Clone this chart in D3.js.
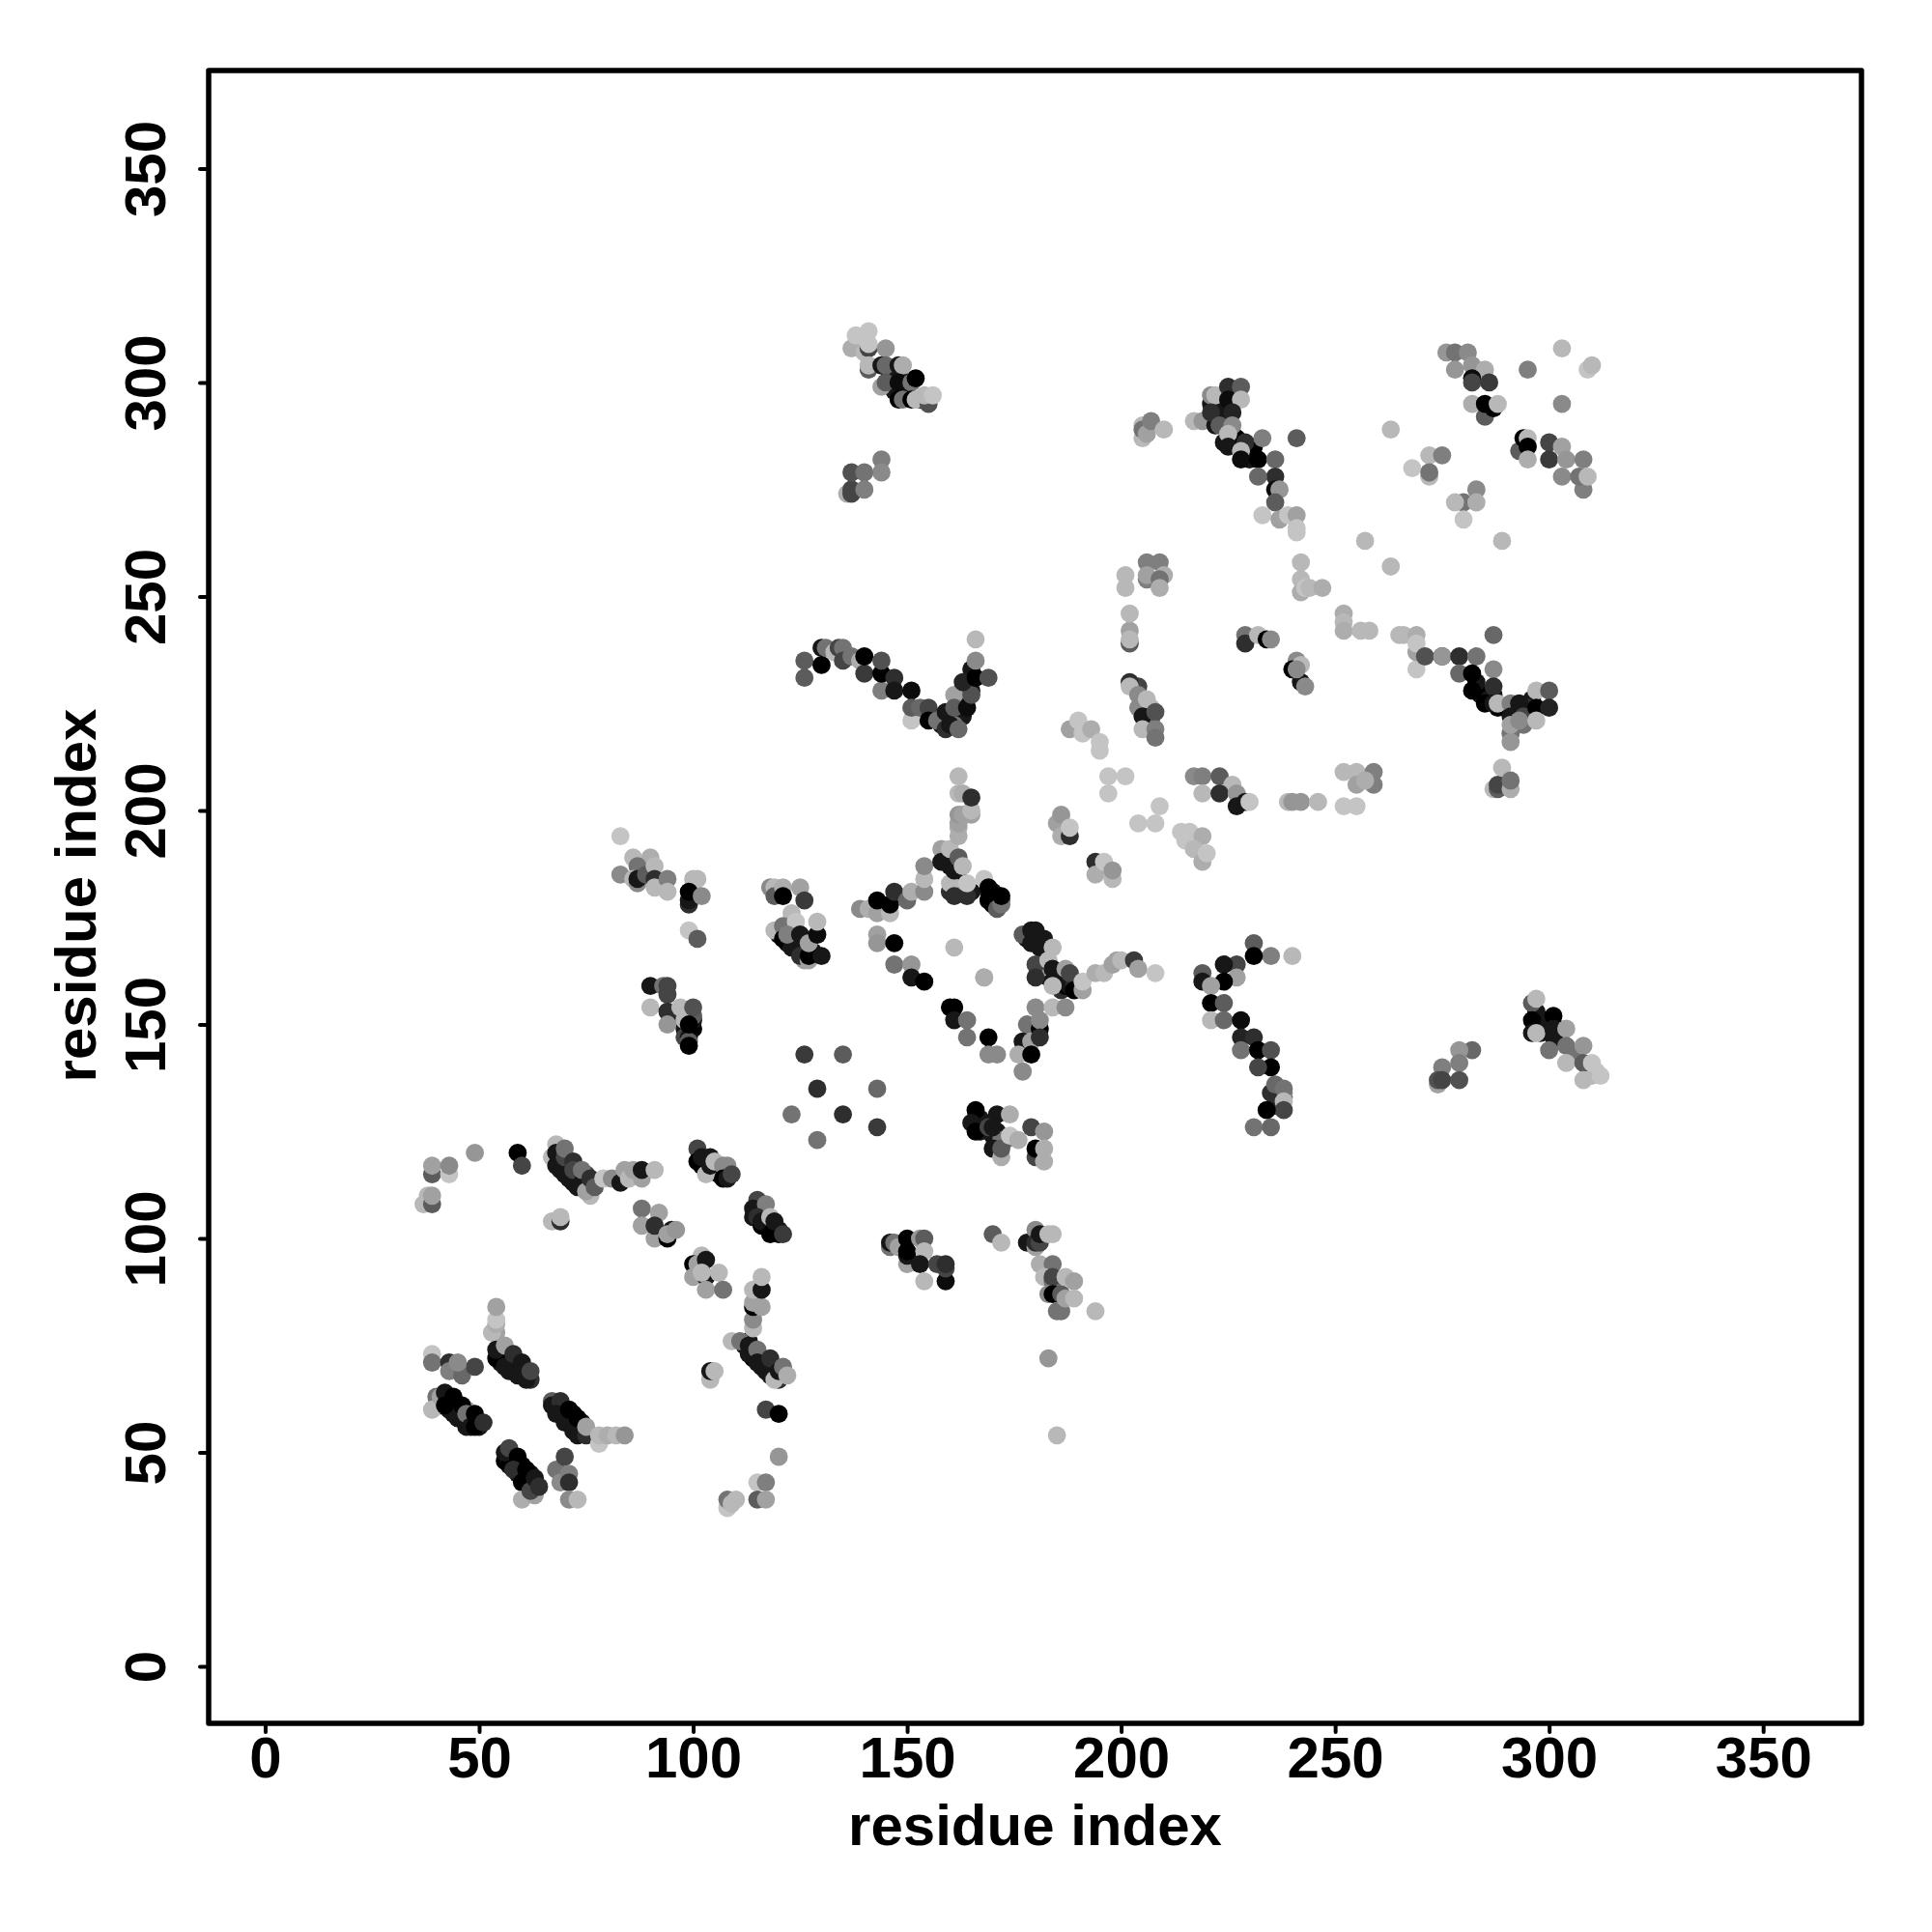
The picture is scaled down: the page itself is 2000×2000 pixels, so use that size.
<!DOCTYPE html>
<html><head><meta charset="utf-8">
<script src="https://cdnjs.cloudflare.com/ajax/libs/d3/7.8.5/d3.min.js"></script>
<style>html,body{margin:0;padding:0;background:#fff}svg{display:block}text{font-family:"Liberation Sans",Arial,sans-serif;font-weight:700;fill:#000}</style>
</head><body><div id="c"></div>
<script>
const tickValues=[0,50,100,150,200,250,300,350];
const axisTitle="residue index";
// each contact: [residue i, residue j, shade level 0 (black) .. 8.5 (light)]
const denseLow=[[40,63,5],[41,61,1],[43,62,0],[43,60,1],[44,59,1],[45,60,1],[46,58,1],[47,60,7],[48,58,0],[50,56,1],[47,56,1],[55,73,1],[56,72,0],[57,71,1],[57,69,1],[58,72,1],[59,70,0],[60,68,0],[61,69,1],[62,67,2],[55,71,1],[68,60,0],[69,60,1],[70,59,1],[71,57,1],[72,59,0],[73,56,1],[74,55,1],[74,57,1],[73,54,1],[75,55,1],[57,49,0],[57,47,1],[58,48,0],[59,45,1],[60,47,0],[60,45,1],[61,44,0],[62,43,1],[63,42,1],[62,45,1]];
const denseMid=[[69,118,0],[69,116,1],[71,116,1],[71,114,1],[72,114,1],[73,115,1],[73,112,1],[75,113,1],[75,115,3],[76,112,1],[102,117,0],[103,118,1],[104,116,1],[105,116,0],[106,115,1],[106,117,1],[107,116,6],[108,115,1],[114,105,1],[115,107,1],[116,106,1],[116,105,2],[117,103,1],[117,105,0],[118,103,0],[119,102,0],[120,102,1],[120,101,0],[112,75,1],[113,76,1],[114,74,1],[114,72,0],[115,72,1],[116,72,0],[116,70,1],[117,71,1],[118,69,0],[119,70,1],[118,68,1],[120,67,2],[97,151,1],[98,152,4],[98,149,1],[98,147,3],[99,147,1],[100,149,0],[100,151,1],[100,152,4],[98,153,2],[122,169,1],[123,170,1],[124,168,1],[125,169,2],[126,167,1],[126,165,7],[128,167,1],[120,171,1]];
const denseHigh=[[159,189,1],[160,187,1],[161,189,1],[162,186,1],[162,183,1],[163,182,7],[160,181,2],[165,181,1],[169,181,1],[170,180,0],[170,178,0],[171,180,1],[172,179,4],[170,181,1],[178,170,1],[180,170,0],[181,168,1],[182,162,1],[183,161,1],[185,162,1],[186,160,1],[186,158,2],[187,159,0],[188,159,1],[189,160,2],[181,163,7],[221,295,1],[222,294,1],[223,292,1],[224,294,1],[224,291,1],[226,288,1],[227,287,0],[229,285,1],[230,284,0],[224,286,1],[230,282,1],[231,285,0],[146,302,1],[147,301,0],[148,302,1],[149,299,1],[149,297,7],[150,297,1],[153,296,1],[147,298,1],[160,222,1],[158,220,1],[161,222,8],[162,226,1],[163,228,1],[164,228,5],[165,233,1],[165,228,1],[163,222,1],[161,220,5],[284,227,1],[285,227,0],[286,226,1],[288,224,0],[287,227,1],[296,226,1],[295,224,2],[294,220,5],[296,222,8],[292,223,3],[283,230,1],[297,153,1],[298,150,0],[299,151,1],[298,148,1],[302,149,0],[302,147,1],[301,147,1],[306,143,5],[167,128,1],[166,128,1],[167,125,1],[168,127,1],[170,124,1],[171,123,1],[171,125,1],[172,123,5],[173,123,5],[236,134,4],[237,133,7],[237,131,1],[236,131,2],[238,133,4],[238,134,6],[309,140,8],[310,138,8],[311,139,8.5],[309,138,8],[205,226,7],[204,224,6],[207,224,8],[206,222,3],[204,229,3],[207,221,5]];
const lowerLeftA=[[39,115,4],[39,117,7],[43,115,8.5],[43,117,6],[49,120,6.5],[59,120,0],[60,117,3],[37,108,8],[38,110,8],[39,108,4],[39,110,7],[67,104,8],[69,104,2],[69,105,8]];
const strandB=[[68,122,8],[67,119,8],[68,120,1],[68,117,1],[70,115,1],[70,119,3],[70,121,5],[72,113,1],[72,118,2],[72,116,3],[74,113,1],[76,110,8],[75,111,7],[74,116,5],[76,114,2],[77,112,4],[79,114,8.5],[81,114,6],[83,113,1],[84,116,7],[85,114,8],[86,116,7],[88,114,7],[88,116,1],[91,116,8]];
const strandC=[[101,121,3],[101,118,0],[102,119,1],[104,119,1],[103,115,8],[104,117,1],[105,118,8],[107,117,6],[108,117,6],[107,114,0],[108,114,1],[109,115,3]];
const strandD=[[115,109,3],[114,107,1],[117,108,5.5],[115,105,2],[116,103,0],[116,104,1],[118,105,8],[118,101,0],[119,104,1],[121,101,2.5]];
const strandE=[[88,107,5],[88,103,7],[92,106,7],[91,100,7],[91,103,2],[94,100,0],[95,102,1],[94,101,7],[96,102,6.5]];
const strandF=[[102,96,8],[100,94,0],[101,94,7],[100,91,7],[103,95,1],[103,91,1],[102,92,8],[106,92,8],[103,88,7],[107,88,5]];
const strandG=[[109,76,8],[111,76,5],[113,75,1],[113,73,1],[114,79,8],[114,81,6],[114,84,0],[114,85,7],[116,84,7],[114,88,8],[116,88,1],[116,91,8],[115,74,5],[115,71,1],[117,69,1],[118,72,2],[119,67,8],[120,69,1],[121,70,5],[122,68,7.5],[104,67,8],[104,69,1],[105,69,8],[117,60,3],[120,59,0],[120,49,6.5],[115,43,8.5],[117,43,5.5],[115,39,4],[117,39,7],[108,37,8.5],[108,39,5],[109,38,8],[110,39,8]];
const strandH=[[54,78,7],[53,78,8],[54,80,7.5],[54,81,8.5],[54,84,7],[54,72,0],[54,74,1],[56,75,7],[56,70,1],[58,73,2],[59,68,1],[61,67,1],[60,71,1],[62,69,3]];
const strandI=[[39,73,8.5],[39,71,5],[43,71,2],[43,69,5.5],[46,68,4.5],[45,71,6],[49,70,3]];
const strandJ=[[39,60,8],[41,63,7],[42,64,1],[42,61,0],[44,63,0],[45,58,1],[46,61,0],[47,59,5],[48,56,1],[49,59,0],[49,56,0],[51,57,2]];
const strandK=[[67,62,4],[67,61,1],[69,62,2],[68,59,1],[70,57,1],[71,60,0],[72,55,1],[73,58,0],[75,54,2],[75,56,7],[78,52,8.5],[78,54,8],[80,54,7.5],[82,54,8],[84,54,6.5]];
const strandL=[[56,48,0],[56,50,1],[57,51,3],[59,49,0],[58,46,2],[60,43,0],[61,46,0],[60,39,7.5],[63,40,7],[62,41,3],[63,44,1],[64,42,2],[68,46,5],[70,49,3],[69,43,6],[71,45,5.5],[71,43,2],[71,39,6],[73,39,8]];
const helixM=[[83,194,8.5],[83,185,6],[86,189,8],[90,189,7.5],[87,187,5],[86,184,8],[87,183,6],[87,184,1],[89,185,4],[91,187,8],[91,184,2],[91,182,8],[94,184,5.5],[94,181,8],[100,184,8],[101,184,8],[99,178,2],[99,179,1],[99,181,0],[102,180,6],[99,172,8.5],[101,170,4]];
const helixN=[[118,182,6],[119,182,8],[119,180,4],[121,182,7.5],[121,180,0],[125,182,7],[126,179,2.5],[123,176,8],[119,172,8],[121,173,5],[121,170,0],[123,168,1],[124,174,8.5],[122,171,5.5],[125,171,1],[125,166,2],[127,165,7],[127,166,0],[127,169,7],[130,166,1],[129,171,0.5],[129,174,8]];
const helixO=[[139,177,6],[141,177,7.5],[143,176,7],[143,179,0],[146,176,8],[146,178,0],[147,181,2],[150,179,4.5],[151,181,7.5],[154,181,6],[154,184,8],[154,187,6]];
const helixP=[[158,191,7],[158,188,1],[160,191,8],[160,183,8],[161,186,1],[162,194,7.5],[162,196,7.5],[162,197,7],[162,199,6.5],[163,199,7],[165,199,7],[165,200,8],[162,204,8],[163,204,7.5],[162,208,8],[165,203,2],[162,189,4],[161,180,2],[163,187,8],[164,180,2],[164,183,8.5],[168,184,8.5],[169,179,0],[171,177,4],[172,178,5],[172,180,0],[169,182,0]];
const helixQ=[[143,171,7],[143,169,6.5],[147,169,0],[147,164,5],[151,164,6.5],[151,161,1],[154,160,0],[161,168,8],[168,161,8],[160,154,0],[161,154,0],[161,151,1],[164,151,5],[164,147,5],[169,147,0],[169,143,6],[171,143,6]];
const helixR=[[90,159,1],[93,159,5],[94,159,3],[94,157,3],[90,154,8],[94,153,2],[94,150,6.5],[97,154,8],[98,151,8],[100,154,3.5],[99,146,4],[99,145,0],[99,150,0]];
const loneS=[[126,143,2.5],[135,143,4],[129,135,2],[143,135,4.5],[123,129,5],[135,129,2],[143,126,2.5],[129,123,5]];
const helixT=[[166,130,0],[165,127,1],[166,125,0],[171,129,1],[174,129,7.5],[169,126,3],[170,126,1],[170,121,1],[172,119,7.5],[172,121,4],[174,124,8.5],[176,123,7.5],[179,126,3],[182,125,6.5],[180,119,3],[180,121,0],[182,118,7.5],[182,121,7.5]];
const sheetT1=[[146,98,5],[146,99,1],[147,99,5],[148,98,7],[150,94,7],[150,96,1],[150,97,0],[150,100,0],[153,100,6.5],[154,100,4],[154,97,8],[153,94,1],[154,90,8],[157,94,3],[159,90,0.5],[159,93,3],[159,94,2]];
const sheetT2=[[170,101,4],[172,99,8],[178,99,1],[180,102,6],[180,98,7],[180,99,2],[181,99,3],[181,101,1],[183,101,8],[184,101,8],[181,94,7.5],[184,94,5],[182,91,8],[184,90,5],[184,91,3],[183,87,6],[184,87,0],[186,87,4],[185,83,5],[186,83,5],[187,86,7],[187,91,8],[189,90,7],[189,86,8],[194,83,8],[183,72,6.5],[185,54,8]];
const helixU=[[177,171,4],[179,172,1],[179,169,1],[180,172,1],[182,170,1],[184,168,8],[180,164,3],[180,161,2],[183,165,8],[184,163,1],[185,160,1],[184,159,8],[187,163,7],[188,162,3],[189,158,0],[191,158,7],[191,160,8.5],[194,162,7.5],[196,162,8],[198,164,7],[199,165,7],[200,165,8],[203,165,2.5],[204,163,7],[208,162,8.5],[168,161,7.5]];
const helixV=[[240,166,8],[235,166,5.5],[231,169,4],[231,166,0],[227,164,3],[224,164,1],[227,161,7],[224,160,0],[219,162,4],[219,160,1],[221,159,7],[221,155,0],[224,155,4],[221,151,8],[224,151,4.5],[228,151,0.5],[228,147,1.5],[231,147,2],[228,144,5],[232,144,0],[235,144,3.5],[235,140,0],[232,140,3],[235,134,2],[236,136,4.5],[238,135,5],[238,132,8],[238,130,3],[234,130,0],[231,126,5],[235,126,4.5]];
const knotW=[[282,144,4.5],[279,144,6.5],[279,141,5.5],[275,140,5.5],[274,136,7],[274,137,3.5],[275,137,3],[279,137,3.5]];
const strandX=[[296,155,4],[297,156,8],[296,151,0],[301,152,0],[296,148,1],[297,148,8],[301,149,1],[304,149,7],[304,145,5],[300,144,5],[308,145,6.5],[304,141,8],[308,141,4],[308,137,8],[310,141,8.5],[312,138,8.5]];
const tangleY=[[188,219,7],[190,221,8.5],[191,218,8.5],[193,219,7.5],[195,216,8.5],[195,214,8.5],[202,230,2],[202,229,8],[204,227,6],[206,226,8],[205,222,1],[208,223,3.5],[205,219,8],[208,219,5.5],[208,217,5],[201,208,8.5],[197,208,8.5],[197,204,8.5]];
const tangleZ=[[217,208,6],[219,208,5.5],[219,204,8],[223,208,4],[226,206,8],[223,204,2],[227,204,6.5],[227,201,1],[229,202,1],[230,202,8.5],[239,202,8],[240,202,6.5],[242,202,6.5],[246,202,8],[252,209,8],[255,209,8],[259,209,5.5],[255,206,7],[259,206,5.5],[257,207,7.5],[252,201,8.5],[255,201,8.5],[287,205,8],[288,205,4],[288,206,3],[291,205,7.5],[289,210,8],[291,207,5]];
const tangleAA=[[185,197,7],[186,199,6.5],[186,194,7.5],[188,194,2],[188,196,8.5],[209,201,8.5],[204,197,8.5],[208,197,8.5],[214,195,8.5],[215,193,8.5],[216,195,8.5],[219,194,7.5],[217,191,8],[219,188,7.5],[220,190,8.5],[194,188,2],[194,185,7.5],[196,188,8.5],[198,184,8],[198,186,6.5]];
const tangleAB=[[180,154,6],[184,154,8],[187,154,6],[178,150,5],[181,149,0],[181,151,6],[177,146,1],[179,146,7],[181,147,2],[176,143,7.5],[179,143,0],[177,139,6]];
const helixAC=[[141,312,8.5],[137,308,7.5],[140,307,8],[141,308,3],[141,309,8.5],[138,311,8.5],[145,308,6.5],[141,303,4],[141,304,8],[144,304,1],[145,304,4.5],[148,304,1],[149,304,7.5],[144,299,7],[145,300,4],[148,300,0.5],[151,300,5],[152,301,0],[148,296,0],[149,296,5],[151,296,0],[152,296,8],[155,295,3.5],[154,297,8],[156,297,8.5]];
const helixAD=[[144,282,5.5],[144,279,6],[136,274,7.5],[137,274,3],[137,275,3],[137,279,3.5],[140,279,5],[140,275,5.5]];
const helixAE=[[126,235,4],[126,231,4],[130,238,1],[130,234,0],[131,238,5],[133,237,8],[134,238,3],[135,238,5],[135,235,3],[137,236,5],[139,235,7.5],[140,232,2.5],[140,236,0],[144,228,5.5],[144,232,0],[144,235,3.5],[147,231,2],[147,228,1],[151,221,8.5],[151,228,0.5],[151,224,4],[153,224,4.5],[155,224,3],[155,221,0],[157,221,5],[159,219,2],[159,223,1],[160,220,1],[161,227,7],[161,224,4],[162,219,4.5],[164,224,0.5],[165,227,3.5],[163,230,1.5],[166,231,0],[169,231,3.5],[166,235,6],[166,240,8]];
const upperAF=[[205,287,8],[205,290,8],[205,289,5],[206,288,7],[207,291,5.5],[210,289,8],[217,291,8],[219,291,6.5],[221,297,6],[222,297,8],[222,290,1],[221,293,2],[223,290,4],[225,299,2],[228,299,4],[225,296,0.5],[228,296,8],[226,293,1.5],[226,290,6],[225,288,8],[225,285,1],[229,286,2],[233,287,5.5],[228,284,8],[228,282,0.5],[232,282,0],[236,282,4.5],[241,287,4],[236,278,2],[232,278,4.5],[236,275,0.5],[237,275,6.5],[236,272,4],[233,269,8.5],[237,268,7],[239,269,8.5],[241,269,7],[241,265,8.5],[241,266,8.5],[257,263,8],[263,289,8],[263,257,8],[289,263,8]];
const upperAG=[[276,307,6.5],[278,307,5],[281,307,6],[278,303,6.5],[282,304,6.5],[285,303,7.5],[282,301,0.5],[282,300,3],[286,300,2.5],[282,295,7.5],[285,292,4],[285,295,0],[287,294,0],[288,295,8],[295,303,5.5],[303,295,6],[303,308,8],[309,303,8.5],[310,304,8]];
const upperAH=[[293,284,4],[294,287,0],[295,287,8],[295,285,0],[295,282,7.5],[300,286,3],[303,285,7],[300,282,2.5],[304,282,6.5],[308,282,5.5],[303,278,6],[308,275,5.5],[307,278,5],[309,278,8],[272,283,8],[275,283,5.5],[268,280,8.5],[272,278,8],[272,279,5],[283,275,6],[280,272,5],[278,272,8],[283,272,7.5],[280,268,8.5]];
const midAI=[[206,258,5.5],[209,258,5.5],[201,255,8],[206,254,5.5],[206,255,7],[210,255,7.5],[201,252,8],[209,254,5],[209,252,7.5],[202,239,4],[202,242,7],[202,240,8],[202,246,8],[242,258,8],[242,254,8],[242,251,7.5],[243,252,8.5],[244,252,8],[247,252,7.5],[252,246,7.5],[252,244,8],[252,242,7.5],[256,242,8],[258,242,8]];
const midAJ=[[229,241,5],[229,239,2],[232,241,8],[234,240,0],[235,240,6],[241,235,6],[242,234,8],[240,233,0],[242,230,1],[243,229,6],[241,233,6]];
const midAK=[[265,241,8],[266,241,8],[269,241,7.5],[269,233,8.5],[269,237,7],[269,239,8.5],[271,236,3.5],[275,236,1.5],[275,236,6.5],[279,236,2],[279,232,4.5],[283,236,5],[287,241,4.5],[282,232,0],[282,228,0],[287,233,6],[287,229,2],[285,225,0],[287,225,1],[288,225,8],[291,225,5.5],[293,225,1],[291,222,1],[291,218,5],[291,216,6.5],[291,220,7],[294,222,3],[293,221,6],[297,228,8],[300,228,4],[297,224,0],[300,224,1.5],[297,221,8]];
const clusters=[denseLow,denseMid,denseHigh,lowerLeftA,strandB,strandC,strandD,strandE,strandF,strandG,strandH,strandI,strandJ,strandK,strandL,helixM,helixN,helixO,helixP,helixQ,helixR,loneS,helixT,sheetT1,sheetT2,helixU,helixV,knotW,strandX,tangleY,tangleZ,tangleAA,tangleAB,helixAC,helixAD,helixAE,upperAF,upperAG,upperAH,midAI,midAJ,midAK];

const W=2000,H=2000;
const x=d3.scaleLinear().domain([-13.2,372.98]).range([216,1927]);
const y=d3.scaleLinear().domain([-13.3,372.9]).range([1784,73]);
const shade=d3.scaleLinear().domain([0,8.5]).range(["#000000","#c4c4c4"]);
const svg=d3.select("#c").append("svg").attr("width",W).attr("height",H);
svg.append("g").selectAll("g").data(clusters).join("g").selectAll("circle").data(d=>d).join("circle")
  .attr("cx",d=>x(d[0])).attr("cy",d=>y(d[1])).attr("r",9.4).attr("fill",d=>shade(d[2]));
svg.append("rect").attr("x",216).attr("y",73).attr("width",1711).attr("height",1711).attr("fill","none").attr("stroke","#000").attr("stroke-width",5.5).attr("stroke-linejoin","round");

const ax=svg.append("g").attr("transform","translate(0,1784)").call(d3.axisBottom(x).tickValues(tickValues).tickSize(9).tickPadding(0));
const ay=svg.append("g").attr("transform","translate(216,0)").call(d3.axisLeft(y).tickValues(tickValues).tickSize(9).tickPadding(0));
[ax,ay].forEach(g=>{g.select(".domain").remove();g.selectAll("line").attr("stroke","#000").attr("stroke-width",4).attr("stroke-linecap","round");g.selectAll("text").attr("font-size",60).attr("font-family",null);});
ax.selectAll("text").attr("dy",null).attr("y",56).attr("text-anchor","middle");
ay.selectAll("text").attr("dy",null).attr("x",null).attr("y",null).attr("text-anchor","middle")
  .attr("transform","translate(-45,0) rotate(-90)");
svg.append("text").attr("x",1071.5).attr("y",1910).attr("text-anchor","middle").attr("font-size",60).text(axisTitle);
svg.append("text").attr("transform","translate(99,927) rotate(-90)").attr("text-anchor","middle").attr("font-size",60).text(axisTitle);
</script></body></html>
